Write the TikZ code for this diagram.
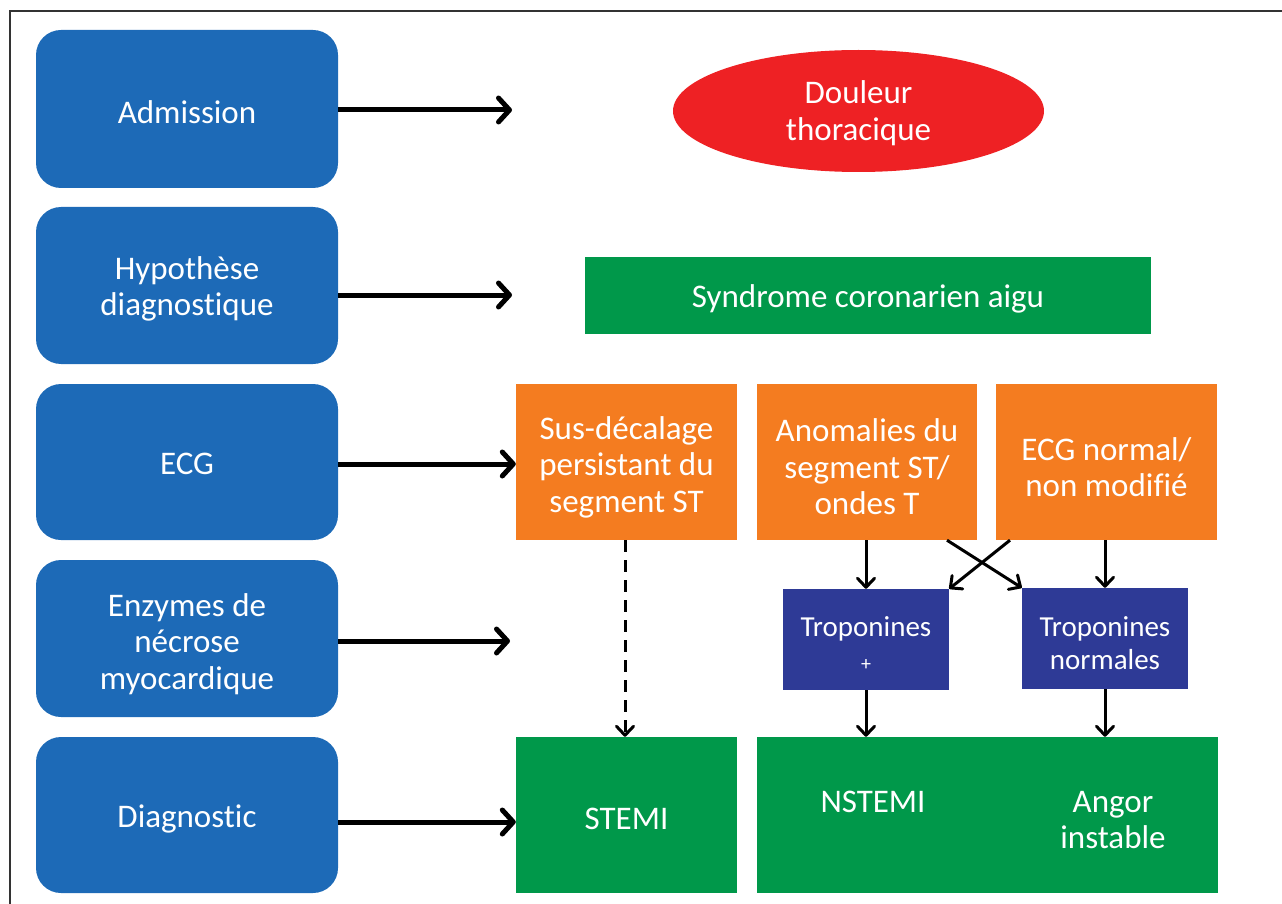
\documentclass[tikz,border=0pt]{standalone}
\usepackage{fontspec}
\setmainfont{Carlito}[Ligatures=NoCommon]
\usetikzlibrary{shapes.geometric,arrows.meta}
\definecolor{cblue}{HTML}{1D6AB7}
\definecolor{cdblue}{HTML}{2E3A96}
\definecolor{cgreen}{HTML}{00984A}
\definecolor{corange}{HTML}{F47C20}
\definecolor{cred}{HTML}{EE2124}
\definecolor{cframe}{HTML}{333333}
\begin{document}
\begin{tikzpicture}[x=1pt,y=-1pt,
  txt/.style={text=white,font=\fontsize{33}{36.5}\selectfont,align=center,inner sep=0pt},
  smalltxt/.style={txt,font=\fontsize{29}{33}\selectfont},
  stage/.style={fill=cblue,rounded corners=25pt,minimum width=302pt,inner sep=0pt},
  obox/.style={fill=corange,minimum width=221pt,minimum height=156pt,inner sep=0pt},
  gbox/.style={fill=cgreen,inner sep=0pt},
  tbox/.style={fill=cdblue,minimum width=166pt,minimum height=101pt,inner sep=0pt},
  bigarrow/.style={draw=black,line width=5pt,-{Straight Barb[length=11pt,width=24pt,round]}},
  thinarrow/.style={draw=black,line width=3pt,-{Straight Barb[length=9pt,width=17pt,round]}},
]
\useasboundingbox (0,0) rectangle (1282,904);
\draw[cframe,line width=2pt] (10,904) -- (10,11) -- (1282,11);

% stage boxes
\node[stage,minimum height=158pt] (b1) at (187,109) {};
\node[stage,minimum height=157pt] (b2) at (187,285.5) {};
\node[stage,minimum height=156pt] (b3) at (187,462) {};
\node[stage,minimum height=157pt] (b4) at (187,638.5) {};
\node[stage,minimum height=156pt] (b5) at (187,815) {};
\node[txt] (b1t) at (187,112) {Admission};
\node[txt] (b2t) at (187,289) {Hypothèse\\diagnostique};
\node[txt] (b3t) at (187,464) {ECG};
\node[txt] (b4t) at (187,644) {Enzymes de\\nécrose\\myocardique};
\node[txt] (b5t) at (187,819) {Diagnostic};

% right column
\node[ellipse,fill=cred,minimum width=371pt,minimum height=122pt,inner sep=0pt] (dt) at (858.5,111) {};
\node[txt] (dtt) at (858.5,113) {Douleur\\thoracique};
\node[gbox,minimum width=566pt,minimum height=77pt] (sca) at (868,295.5) {};
\node[txt] (scat) at (868,299) {Syndrome coronarien aigu};

\node[obox] (o1) at (626.5,462) {};
\node[obox,minimum width=220pt] (o2) at (867,462) {};
\node[obox] (o3) at (1106.5,462) {};
\node[txt] (o1t) at (626.5,467) {Sus-décalage\\persistant du\\segment ST};
\node[txt] (o2t) at (867,467) {Anomalies du\\segment ST/\\ondes T};
\node[txt] (o3t) at (1106.5,467) {ECG normal/\\non modifié};

\node[tbox] (tp) at (866,639.5) {};
\node[tbox] (tn) at (1105,638.5) {};
\node[smalltxt] (tpt) at (866,644) {Troponines\\[1pt]{\fontsize{20}{20}\selectfont +}};
\node[smalltxt] (tnt) at (1105,643) {Troponines\\normales};

\node[gbox,minimum width=221pt,minimum height=156pt] (stemi) at (626.5,815) {};
\node[gbox,minimum width=461pt,minimum height=156pt] (nst) at (987.5,815) {};
\node[txt] (stemit) at (626.5,819) {STEMI};
\node[txt] (nstl) at (873,802) {NSTEMI};
\node[txt] (ang) at (1113,820) {Angor\\instable};

% free ends of stage arrows
\coordinate (e1) at (512,110);
\coordinate (e2) at (512,295);
\coordinate (e4) at (510,641);

\draw[bigarrow] (b1.east |- e1) -- (e1);
\draw[bigarrow] (b2.east |- e2) -- (e2);
\draw[bigarrow] (b3.east |- 0,464) -- (o1.west |- 0,464);
\draw[bigarrow] (b4.east |- e4) -- (e4);
\draw[bigarrow] (b5.east |- 0,822) -- (stemi.west |- 0,822);

% flow arrows
\draw[thinarrow,dash pattern=on 12pt off 8pt] (o1.south -| 625,0) -- (stemi.north -| 625,0);
\draw[thinarrow] (o2.south -| tp.north) -- (tp.north);
\draw[thinarrow] (o3.south -| tn.north) -- (tn.north);
\draw[thinarrow] (o2.south -| 947,0) -- (tn.north west);
\draw[thinarrow] (o3.south -| 1010,0) -- (tp.north east);
\draw[thinarrow] (tp.south) -- (nst.north -| tp.south);
\draw[thinarrow] (tn.south) -- (nst.north -| tn.south);
\end{tikzpicture}
\end{document}
